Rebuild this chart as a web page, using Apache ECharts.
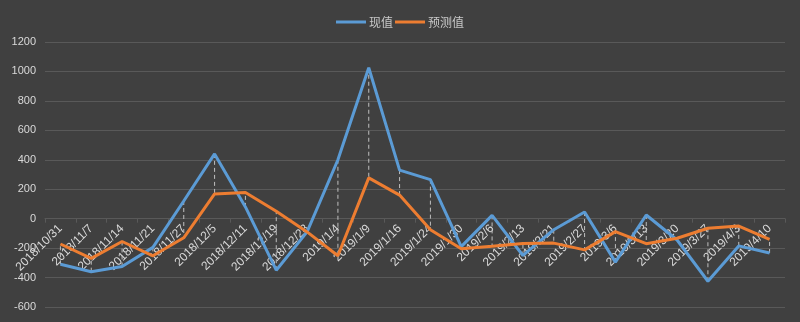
<!DOCTYPE html>
<html>
<head>
<meta charset="utf-8">
<script src="https://cdn.jsdelivr.net/npm/echarts@6/dist/echarts.min.js"></script>
<style>
  html, body { margin: 0; padding: 0; background: #404040; }
  #chart { width: 800px; height: 322px; }
</style>
</head>
<body>
<div id="chart"></div>
<script>
// Weekly dates on the category axis
const dates = [
  '2018/10/31', '2018/11/7', '2018/11/14', '2018/11/21', '2018/11/27', '2018/12/5',
  '2018/12/11', '2018/12/19', '2018/12/28', '2019/1/4', '2019/1/9', '2019/1/16',
  '2019/1/24', '2019/1/30', '2019/2/6', '2019/2/13', '2019/2/21', '2019/2/27',
  '2019/3/6', '2019/3/13', '2019/3/20', '2019/3/27', '2019/4/3', '2019/4/10'
];

// 现值 (actual)
const actualValues = [
  -310, -360, -325, -195, 120, 440,
  80, -350, -90, 400, 1025, 330,
  265, -190, 22, -250, -75, 45,
  -295, 25, -145, -425, -185, -233
];

// 预测值 (forecast)
const forecastValues = [
  -172, -270, -155, -252, -130, 168,
  178, 50, -90, -252, 277, 160,
  -75, -205, -188, -168, -166, -212,
  -88, -170, -133, -65, -50, -140
];

// Y axis range
const yMin = -600;
const yMax = 1200;
const yStep = 200;

const textColor = '#d9d9d9';
const gridColor = '#595959';

// High-low connector between the two series at each date
const connectorData = dates.map((d, i) => [i, actualValues[i], forecastValues[i]]);

const chart = echarts.init(document.getElementById('chart'));
chart.setOption({
  backgroundColor: '#404040',
  animation: false,
  textStyle: { fontFamily: '"Noto Sans CJK SC", "Liberation Sans", sans-serif' },
  legend: {
    top: 11,
    left: 'center',
    itemWidth: 30,
    itemHeight: 3,
    itemGap: 2,
    icon: 'rect',
    textStyle: { color: '#c8c8c8', fontSize: 12, padding: [0, 0, 0, -2] },
    data: ['现值', '预测值']
  },
  grid: { left: 45, right: 15, top: 42, bottom: 15, containLabel: false, outerBoundsMode: 'none' },
  xAxis: {
    type: 'category',
    data: dates,
    boundaryGap: true,
    axisLine: { onZero: false, lineStyle: { color: gridColor, width: 1 } },
    axisTick: { show: true, length: 4, lineStyle: { color: gridColor } },
    axisLabel: {
      interval: 0,
      rotate: 45,
      margin: 8,
      color: textColor,
      fontSize: 12,
      fontFamily: '"Liberation Sans", sans-serif'
    },
    splitLine: { show: false }
  },
  yAxis: {
    type: 'value',
    min: yMin,
    max: yMax,
    interval: yStep,
    axisLine: { show: false },
    axisTick: { show: false },
    axisLabel: {
      color: textColor,
      fontSize: 11,
      margin: 9,
      fontFamily: '"Liberation Sans", sans-serif',
      formatter: (v) => String(v)
    },
    splitLine: { lineStyle: { color: gridColor, width: 1 } }
  },
  series: [
    {
      name: 'connector',
      type: 'custom',
      silent: true,
      z: 1,
      encode: { x: 0, y: [1, 2] },
      data: connectorData,
      renderItem: function (params, api) {
        const i = api.value(0);
        const p1 = api.coord([i, api.value(1)]);
        const p2 = api.coord([i, api.value(2)]);
        return {
          type: 'line',
          shape: { x1: p1[0], y1: p1[1], x2: p2[0], y2: p2[1] },
          style: { stroke: '#bfbfbf', lineWidth: 1, lineDash: [4, 3] }
        };
      }
    },
    {
      name: '现值',
      type: 'line',
      data: actualValues,
      symbol: 'none',
      z: 3,
      lineStyle: { color: '#5b9bd5', width: 3 },
      itemStyle: { color: '#5b9bd5' }
    },
    {
      name: '预测值',
      type: 'line',
      data: forecastValues,
      symbol: 'none',
      z: 3,
      lineStyle: { color: '#ed7d31', width: 3 },
      itemStyle: { color: '#ed7d31' }
    }
  ]
});

// Move the category axis (line, ticks, labels) up to the value-axis zero line
const zeroPx = chart.convertToPixel({ yAxisIndex: 0 }, 0);
const bottomPx = chart.convertToPixel({ yAxisIndex: 0 }, yMin);
chart.setOption({ xAxis: { offset: zeroPx - bottomPx } });
</script>
</body>
</html>
